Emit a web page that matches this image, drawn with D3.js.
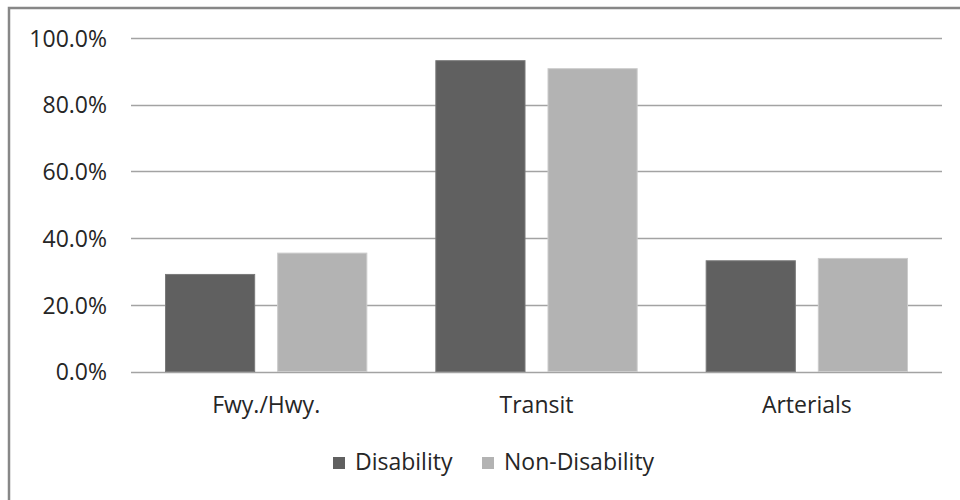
<!DOCTYPE html>
<html>
<head>
<meta charset="utf-8">
<script src="https://cdn.jsdelivr.net/npm/d3@7"></script>
<style>
  body { margin: 0; background: #fff; }
  text { font-family: "Open Sans", "Noto Sans", sans-serif; fill: #262626; }
</style>
</head>
<body>
<script>
// data
var categories = ["Fwy./Hwy.", "Transit", "Arterials"];
var seriesNames = ["Disability", "Non-Disability"];
var disability = [0.291, 0.932, 0.332];
var nonDisability = [0.355, 0.908, 0.339];
var yTicks = [0, 0.2, 0.4, 0.6, 0.8, 1.0];

var colors = ["#606060", "#b3b3b3"];
var edges = ["#7a7a7a", "#cccccc"];
var fontSize = 23;

var svg = d3.select("body").append("svg")
    .attr("width", 960)
    .attr("height", 500);

// outer frame (right/bottom edges fall outside the picture)
svg.append("rect")
    .attr("x", 9).attr("y", 8)
    .attr("width", 980).attr("height", 520)
    .attr("fill", "none")
    .attr("stroke", "#878787")
    .attr("stroke-width", 2.5);

var plotLeft = 131, plotRight = 942, plotTop = 38, plotBottom = 371.5;

var y = d3.scaleLinear().domain([0, 1]).range([plotBottom, plotTop]);
var x0 = d3.scaleBand().domain(categories).range([plotLeft, plotRight]).padding(0);
var x1 = d3.scaleBand().domain(seriesNames)
    .range([34, x0.bandwidth() - 34])
    .paddingInner(0.196).paddingOuter(0);

// gridlines
svg.append("g").selectAll("line")
    .data(yTicks)
    .enter().append("line")
    .attr("x1", plotLeft).attr("x2", plotRight)
    .attr("y1", d => Math.round(y(d)) + 0.5)
    .attr("y2", d => Math.round(y(d)) + 0.5)
    .attr("stroke", "#a3a3a3")
    .attr("stroke-width", 1.4);

// y axis labels
var yAxis = d3.axisLeft(y).tickValues(yTicks).tickFormat(d3.format(".1%")).tickSize(0).tickPadding(24);
var ya = svg.append("g").attr("transform", "translate(" + plotLeft + ",0)").call(yAxis);
ya.select(".domain").remove();
ya.selectAll("text")
    .attr("font-size", fontSize)
    .attr("font-family", null)
    .attr("fill", null)
    .attr("dy", "0.36em");

// bars
var rows = categories.map(function (c, i) {
    return { cat: c, vals: [disability[i], nonDisability[i]] };
});
rows.forEach(function (r) {
    var g = svg.append("g").attr("transform", "translate(" + x0(r.cat) + ",0)");
    r.vals.forEach(function (v, j) {
        g.append("rect")
            .attr("x", x1(seriesNames[j]) + 0.5)
            .attr("y", y(v))
            .attr("width", x1.bandwidth() - 1)
            .attr("height", plotBottom - y(v))
            .attr("fill", colors[j])
            .attr("stroke", edges[j])
            .attr("stroke-width", 1);
    });
});

// category labels
var xAxis = d3.axisBottom(x0).tickSize(0).tickPadding(0);
var xa = svg.append("g").attr("transform", "translate(0," + plotBottom + ")").call(xAxis);
xa.select(".domain").remove();
xa.selectAll("text")
    .attr("font-size", fontSize)
    .attr("font-family", null)
    .attr("fill", null)
    .attr("dy", null)
    .attr("y", 41.5);

// legend
var legendX = [333, 482];
var legend = svg.append("g");
seriesNames.forEach(function (s, j) {
    legend.append("rect")
        .attr("x", legendX[j]).attr("y", 457)
        .attr("width", 12).attr("height", 12)
        .attr("fill", colors[j]);
    legend.append("text")
        .attr("x", legendX[j] + 22).attr("y", 470)
        .attr("font-size", fontSize)
        .text(s);
});
</script>
</body>
</html>
